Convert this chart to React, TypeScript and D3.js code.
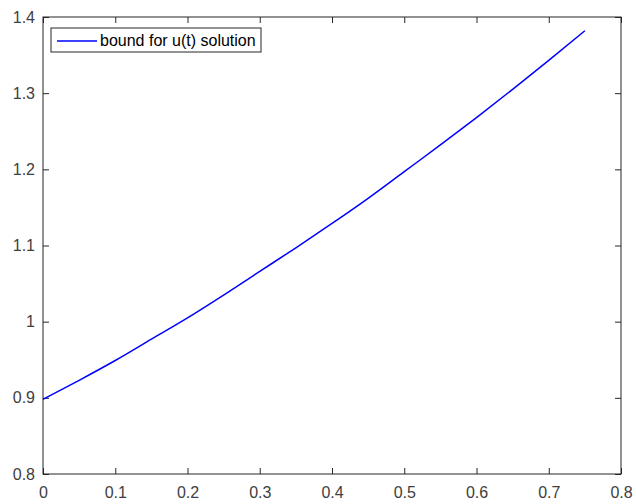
import React, { useEffect, useRef } from "react";
import * as d3 from "d3";

// bound curve
const tValues = [0, 0.05, 0.1, 0.15, 0.2, 0.25, 0.3, 0.35, 0.4, 0.45, 0.5, 0.55, 0.6, 0.65, 0.7, 0.75];
const uBound = [0.898, 0.923, 0.949, 0.977, 1.005, 1.035, 1.066, 1.097, 1.129, 1.162, 1.197, 1.232, 1.268, 1.305, 1.343, 1.382];
const xTicks = [0, 0.1, 0.2, 0.3, 0.4, 0.5, 0.6, 0.7, 0.8];
const yTicks = [0.8, 0.9, 1, 1.1, 1.2, 1.3, 1.4];
const legendLabel = "bound for u(t) solution";

const App = () => {
  const ref = useRef<SVGSVGElement>(null);

  useEffect(() => {
    const width = 636;
    const height = 504;
    const margin = { top: 17, right: 15, bottom: 30, left: 43 };
    const innerWidth = width - margin.left - margin.right;
    const innerHeight = height - margin.top - margin.bottom;

    const svg = d3.select(ref.current).attr("width", width).attr("height", height);
    svg.selectAll("*").remove();
    svg.append("rect").attr("width", width).attr("height", height).attr("fill", "#fff");

    const g = svg.append("g").attr("transform", `translate(${margin.left},${margin.top})`);

    const xScale = d3.scaleLinear().domain([0, 0.8]).range([0, innerWidth]);
    const yScale = d3.scaleLinear().domain([0.8, 1.4]).range([innerHeight, 0]);

    const axisColor = "#262626";
    const fmt = (d: d3.NumberValue) => String(+d);

    const styleAxis = (sel: d3.Selection<SVGGElement, unknown, null, undefined>, showText: boolean) => {
      sel.select(".domain").remove();
      sel.selectAll(".tick line").attr("stroke", axisColor);
      sel.selectAll(".tick text")
        .attr("fill", "#404040")
        .style("font-family", "Liberation Sans, Arial, sans-serif")
        .style("font-size", "16px")
        .style("display", showText ? null : "none");
    };

    // bottom / left axes with labels, ticks pointing inward
    g.append("g")
      .attr("transform", `translate(0,${innerHeight})`)
      .call(d3.axisBottom(xScale).tickValues(xTicks).tickFormat(fmt).tickSizeInner(-6).tickSizeOuter(0).tickPadding(13))
      .call((s) => styleAxis(s, true));

    g.append("g")
      .call(d3.axisLeft(yScale).tickValues(yTicks).tickFormat(fmt).tickSizeInner(-6).tickSizeOuter(0).tickPadding(8))
      .call((s) => styleAxis(s, true));

    // top / right mirror ticks
    g.append("g")
      .call(d3.axisTop(xScale).tickValues(xTicks).tickSizeInner(-6).tickSizeOuter(0))
      .call((s) => styleAxis(s, false));

    g.append("g")
      .attr("transform", `translate(${innerWidth},0)`)
      .call(d3.axisRight(yScale).tickValues(yTicks).tickSizeInner(-6).tickSizeOuter(0))
      .call((s) => styleAxis(s, false));

    // box
    g.append("rect")
      .attr("width", innerWidth)
      .attr("height", innerHeight)
      .attr("fill", "none")
      .attr("stroke", axisColor)
      .attr("stroke-width", 1);

    const line = d3.line<number>()
      .x((_, i) => xScale(tValues[i]))
      .y((d) => yScale(d))
      .curve(d3.curveMonotoneX);

    g.append("path")
      .datum(uBound)
      .attr("d", line)
      .attr("fill", "none")
      .attr("stroke", "#0000ff")
      .attr("stroke-width", 1.5);

    // legend
    const legend = g.append("g").attr("transform", "translate(8,11)");
    legend.append("rect")
      .attr("width", 210)
      .attr("height", 24)
      .attr("fill", "#fff")
      .attr("stroke", axisColor)
      .attr("stroke-width", 1);
    legend.append("line")
      .attr("x1", 6).attr("x2", 46)
      .attr("y1", 13).attr("y2", 13)
      .attr("stroke", "#0000ff")
      .attr("stroke-width", 1.5);
    legend.append("text")
      .attr("x", 49)
      .attr("y", 18)
      .attr("fill", "#000")
      .style("font-family", "Liberation Sans, Arial, sans-serif")
      .style("font-size", "16px")
      .text(legendLabel);
  }, []);

  return (
    <div style={{ position: "absolute", left: 0, top: 0 }}>
      <svg ref={ref} style={{ display: "block" }} />
    </div>
  );
};

export default App;
